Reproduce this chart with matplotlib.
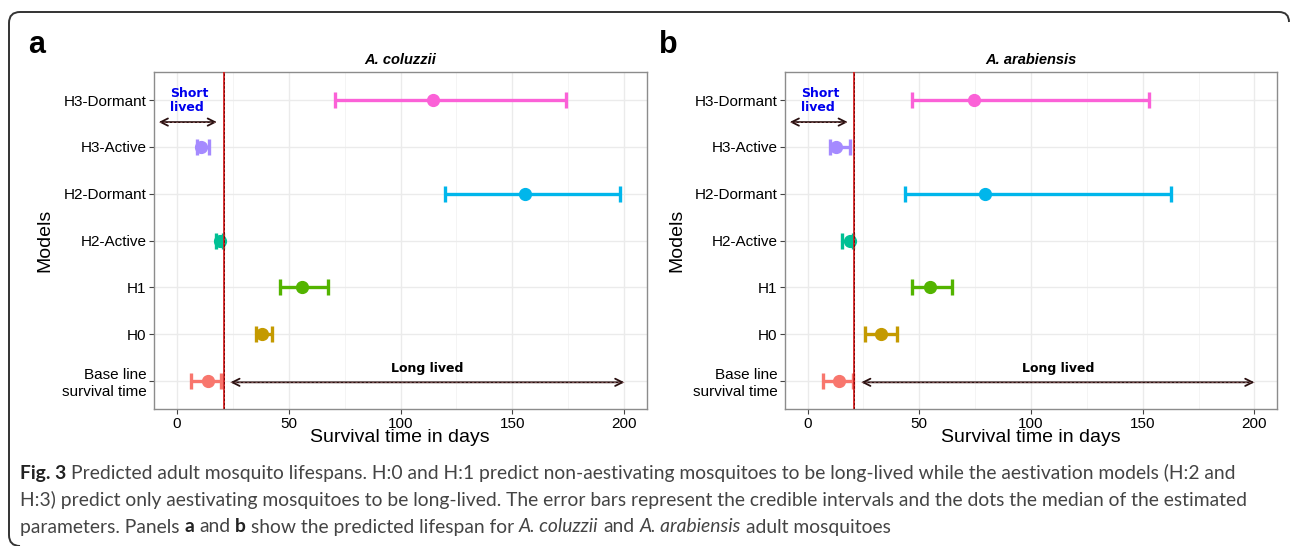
import matplotlib
matplotlib.use("Agg")
import matplotlib.pyplot as plt
from matplotlib.path import Path
from matplotlib.patches import PathPatch

W, H = 1290, 546

# categories bottom -> top, ggplot hue colours
models = ["Base line\nsurvival time", "H0", "H1", "H2-Active", "H2-Dormant", "H3-Active", "H3-Dormant"]
colors = ["#F8766D", "#C49A00", "#53B400", "#00C094", "#00B6EB", "#A58AFF", "#FB61D7"]

# panel a: A. coluzzii (median and credible interval, days)
coluzzii_median = [13.8, 38.0, 55.9, 19.2, 155.5, 10.8, 114.7]
coluzzii_low = [6.5, 35.6, 46.4, 17.7, 119.9, 9.1, 70.9]
coluzzii_high = [19.7, 42.5, 67.6, 20.7, 198.1, 14.5, 173.9]

# panel b: A. arabiensis
arabiensis_median = [14.1, 32.7, 55.0, 19.0, 79.6, 12.6, 74.3]
arabiensis_low = [6.9, 25.7, 46.7, 15.4, 43.5, 10.0, 46.7]
arabiensis_high = [20.4, 40.1, 64.5, 20.5, 162.5, 19.0, 152.6]

cutoff = 21
short_span = (-8, 18)
long_span = (24, 200)
xticks = [0, 50, 100, 150, 200]

FONT = "Liberation Sans"
plt.rcParams["font.family"] = FONT


def px(x, y):
    # pixel position (from top left) -> figure fraction
    return x / W, 1 - y / H


def draw_panel(ax, median, low, high, title):
    ypos = list(range(1, len(models) + 1))
    for y, m, lo, hi, c in zip(ypos, median, low, high, colors):
        ax.errorbar(m, y, xerr=[[m - lo], [hi - m]], fmt="o", color=c, ms=8.5,
                    elinewidth=2.4, capsize=6, capthick=2.4, zorder=3)

    ax.axvline(cutoff, color="#d42020", lw=1.3, zorder=4)
    ax.axvline(cutoff, color="#700000", lw=0.6, ls=(0, (3, 2)), zorder=5)

    # short / long lived arrows
    for span, yy in [(short_span, 6.53), (long_span, 0.97)]:
        ax.annotate("", xy=(span[1], yy), xytext=(span[0], yy),
                    arrowprops=dict(arrowstyle="<->", color="#2a1010", lw=1.3,
                                    mutation_scale=13, shrinkA=0, shrinkB=0),
                    zorder=6)
        ax.plot(span, [yy, yy], color="#9a6a6a", lw=0.5, ls=(0, (3, 3)), zorder=7)
    ax.text(short_span[0] + 5, 7.0, "Short\nlived", color="#0000ee", fontweight="bold",
            fontsize=9, ha="left", va="center", linespacing=1.1, family="DejaVu Sans")
    ax.text((long_span[0] + long_span[1]) / 2, 1.27, "Long lived", color="black",
            fontweight="bold", fontsize=9, ha="center", va="center", family="DejaVu Sans")

    ax.set_xlim(-10.1, 210.1)
    ax.set_ylim(0.4, 7.6)
    ax.set_xticks(xticks)
    ax.set_xticks([25, 75, 125, 175], minor=True)
    ax.set_yticks(ypos)
    ax.set_yticklabels(models)
    ax.grid(True, which="major", color="#ebebeb", lw=1.0, zorder=0)
    ax.grid(True, which="minor", axis="x", color="#f3f3f3", lw=0.6, zorder=0)
    ax.set_axisbelow(True)
    for s in ax.spines.values():
        s.set_color("#8c8c8c")
        s.set_linewidth(1.0)
    ax.tick_params(axis="both", which="major", length=3.5, width=0.8, color="#444444",
                   labelsize=11, labelcolor="black", pad=2)
    ax.tick_params(axis="both", which="minor", length=0)
    ax.set_title(title, fontsize=10.5, fontweight="bold", fontstyle="italic", pad=6)


fig = plt.figure(figsize=(W / 100, H / 100), dpi=100)
fig.patch.set_facecolor("white")

ax_a = fig.add_axes([154 / W, 1 - 409 / H, 493 / W, 337 / H])
ax_b = fig.add_axes([785 / W, 1 - 409 / H, 492 / W, 337 / H])
draw_panel(ax_a, coluzzii_median, coluzzii_low, coluzzii_high, "A. coluzzii")
draw_panel(ax_b, arabiensis_median, arabiensis_low, arabiensis_high, "A. arabiensis")

# axis titles and panel letters
for xl, xc, yc, letter, lx in [(400, 45, 240, "a", 37), (1031, 677, 240, "b", 668)]:
    fig.text(*px(xl, 438), "Survival time in days", fontsize=14, ha="center", va="center")
    fig.text(*px(xc, yc), "Models", fontsize=14, rotation=90, ha="center", va="center")
    fig.text(*px(lx, 45), letter, fontsize=22, fontweight="bold", ha="center", va="center")

# rounded frame round the figure (open on the lower right)
verts = [px(1289, 22), px(1289, 12), px(1279, 12), px(20, 12), px(9, 12), px(9, 23),
         px(9, 535), px(9, 546), px(20, 546)]
codes = [Path.MOVETO, Path.CURVE3, Path.CURVE3, Path.LINETO, Path.CURVE3, Path.CURVE3,
         Path.LINETO, Path.CURVE3, Path.CURVE3]
fig.patches.append(PathPatch(Path(verts, codes), transform=fig.transFigure, fill=False,
                             edgecolor="#333333", lw=1.4))

# caption, built word-group by word-group so bold / italic parts line up
cap_font = "Lato"
cap_color = "#444444"
caption = [
    [("Fig. 3", "bold", "normal"),
     ("Predicted adult mosquito lifespans. H:0 and H:1 predict non-aestivating mosquitoes to be "
      "long-lived while the aestivation models (H:2 and", "normal", "normal")],
    [("H:3) predict only aestivating mosquitoes to be long-lived. The error bars represent the "
      "credible intervals and the dots the median of the estimated", "normal", "normal")],
    [("parameters. Panels", "normal", "normal"), ("a", "bold", "normal"), ("and", "normal", "normal"),
     ("b", "bold", "normal"), ("show the predicted lifespan for", "normal", "normal"),
     ("A. coluzzii", "normal", "italic"), ("and", "normal", "normal"),
     ("A. arabiensis", "normal", "italic"), ("adult mosquitoes", "normal", "normal")],
]
caption_y = [473, 500, 527]

renderer = fig.canvas.get_renderer()


def width_of(s, size, weight="normal", style="normal"):
    t = fig.text(0, 0, s, fontsize=size, fontweight=weight, fontstyle=style, family=cap_font)
    w = t.get_window_extent(renderer).width
    t.remove()
    return w


def line_width(chunks, size):
    gap = width_of("x x", size) - width_of("xx", size)
    return sum(width_of(c[0], size, c[1], c[2]) for c in chunks) + gap * (len(chunks) - 1)


# fit the second caption line to its width in the reference
cap_size = 12 * 1222 / line_width(caption[1], 12)
gap = width_of("x x", cap_size) - width_of("xx", cap_size)
for chunks, yc in zip(caption, caption_y):
    x = 20
    for s, weight, style in chunks:
        col = "#222222" if weight == "bold" else cap_color
        t = fig.text(*px(x, yc), s, fontsize=cap_size, fontweight=weight, fontstyle=style,
                     family=cap_font, color=col, ha="left", va="center")
        x += t.get_window_extent(renderer).width + gap

fig.savefig("out.png", dpi=100)
